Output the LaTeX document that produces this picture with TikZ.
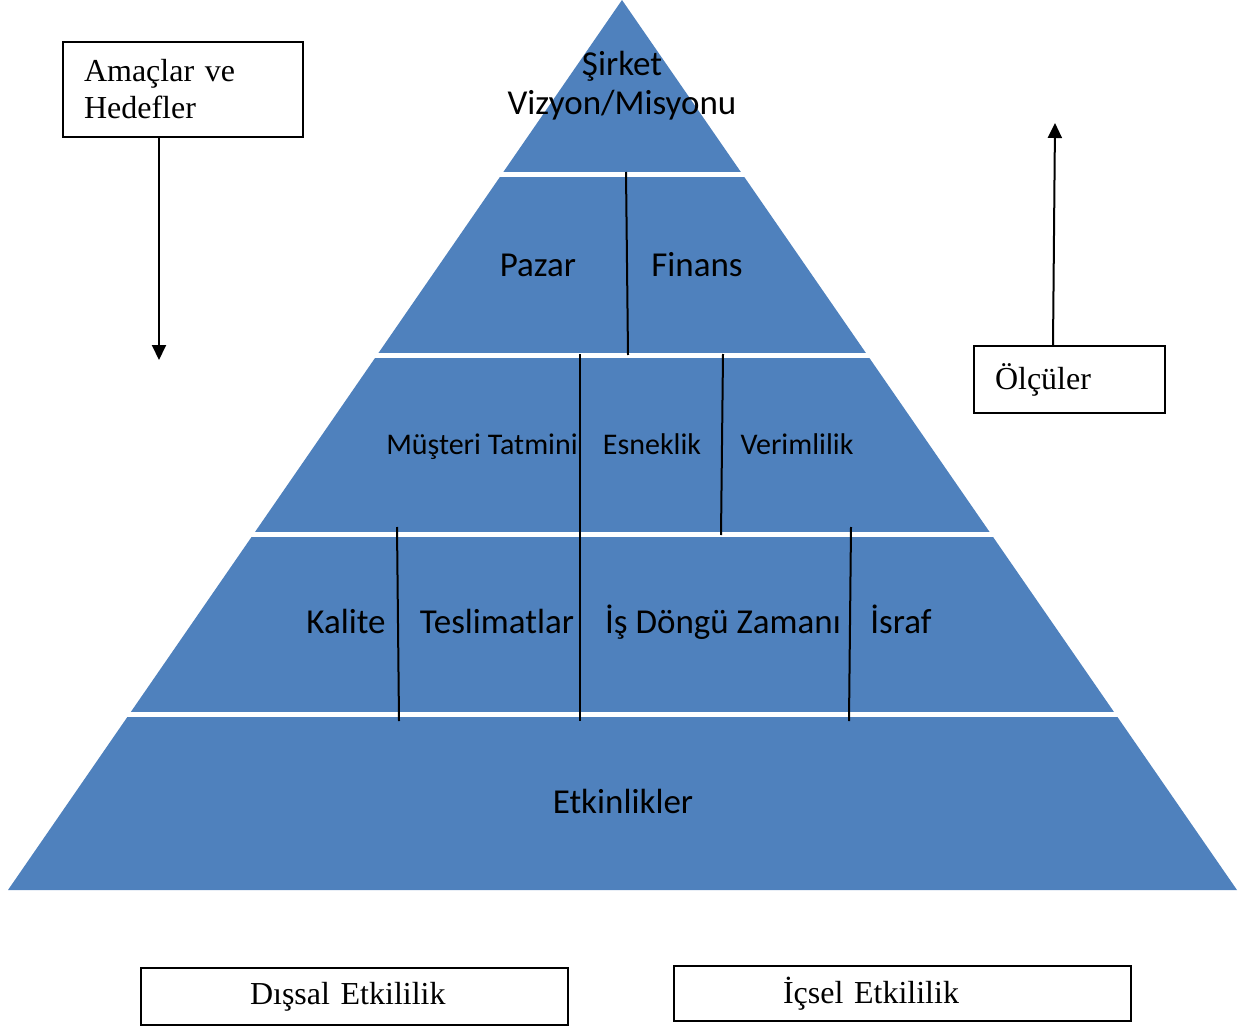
\documentclass[tikz,border=0pt]{standalone}
\usepackage{fontspec}
\setmainfont{Liberation Serif}
\newfontfamily\calfont{Carlito}
\usetikzlibrary{arrows.meta}
\definecolor{pyr}{HTML}{4F81BD}
\begin{document}
\begin{tikzpicture}[x=1pt,y=-1pt,
 lbl/.style={font=\calfont\fontsize{35}{40}\selectfont, text=black, inner sep=0pt, align=center, anchor=base},
 lbls/.style={font=\calfont\fontsize{30}{36}\selectfont, text=black, inner sep=0pt, anchor=base},
 tbox/.style={draw=black, line width=1.6pt, font=\fontsize{32}{37}\selectfont, inner ysep=0pt, align=left},
 divider/.style={draw=black, line width=2pt},
 gapline/.style={draw=white, line width=5pt},
 arr/.style={-{Triangle[length=15pt,width=14pt]}, line width=2pt}
]
\useasboundingbox (0,0) rectangle (1239,1027);
% pyramid
\fill[pyr] (622,0) -- (1237,890) -- (8,890) -- cycle;
\foreach \y in {174.7,355.8,534.5,714.2} \draw[gapline] (0,\y) -- (1239,\y);
% dividers
\draw[divider] (626,172) -- (628,355);
\draw[divider] (580,354) -- (580,721);
\draw[divider] (723,354) -- (721,535);
\draw[divider] (397,527) -- (399,721);
\draw[divider] (851,527) -- (849,721);
% labels
\node[lbl] (vision1) at (622,76) {Şirket};
\node[lbl] (vision2) at (622,115) {Vizyon/Misyonu};
\node[lbl] (pazar) at (538,276) {Pazar};
\node[lbl] (finans) at (697,276) {Finans};
\node[lbls] (musteri) at (482,454) {Müşteri Tatmini};
\node[lbls] (esnek) at (652,454) {Esneklik};
\node[lbls] (verim) at (797,454) {Verimlilik};
\node[lbl] (kalite) at (346,633) {Kalite};
\node[lbl] (teslim) at (497,633) {Teslimatlar};
\node[lbl] (dongu) at (723,633) {İş Döngü Zamanı};
\node[lbl] (israf) at (901,633) {İsraf};
\node[lbl] (etkin) at (623,813) {Etkinlikler};
% boxes
\node[tbox, inner xsep=21pt, text width=198pt, minimum height=95pt] (amac) at (183,89.5) {Amaçlar ve\\Hedefler};
\node[tbox, inner xsep=21pt, text width=149pt, minimum height=67pt] (olcu) at (1069.5,379.5) {Ölçüler};
\node[tbox, inner xsep=109pt, text width=209pt, minimum height=57pt] (dis) at (354.5,996.5) {Dışsal Etkililik};
\node[tbox, inner xsep=109pt, text width=239pt, minimum height=55pt] (ic) at (902.5,993.5) {İçsel Etkililik};
% arrows
\coordinate (amacEnd) at (159,360);
\coordinate (olcuEnd) at (1055,123);
\draw[arr] (amacEnd |- amac.south) -- (amacEnd);
\draw[arr] ([xshift=-2pt]olcuEnd |- olcu.north) -- (olcuEnd);
\end{tikzpicture}
\end{document}
